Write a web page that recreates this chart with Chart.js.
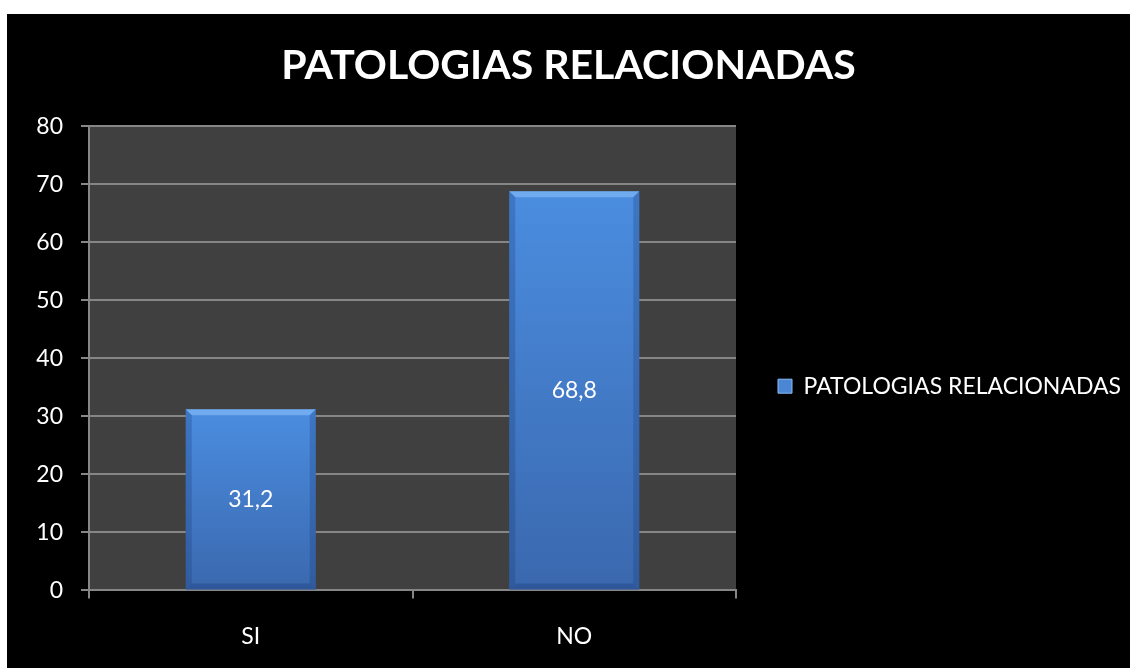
<!DOCTYPE html>
<html>
<head>
<meta charset="utf-8">
<script src="https://cdn.jsdelivr.net/npm/chart.js@4/dist/chart.umd.min.js"></script>
<style>
  html, body { margin: 0; padding: 0; background: #fff; }
  #wrap { position: absolute; left: 7px; top: 14px; width: 1123px; height: 654px; background: #000; }
</style>
</head>
<body>
<div id="wrap"><canvas id="chart"></canvas></div>
<script>
// datos del grafico
const categories = ['SI', 'NO']
const seriesName = 'PATOLOGIAS RELACIONADAS'
const seriesValues = [31.2, 68.8]
const yTicks = [0, 10, 20, 30, 40, 50, 60, 70, 80]

const FONT = 'Lato, "Open Sans", sans-serif'

// fondo gris del area de trazado
const plotBg = {
  id: 'plotBg',
  beforeDraw(chart) {
    const { ctx, chartArea: a } = chart
    ctx.save()
    ctx.fillStyle = '#404040'
    ctx.fillRect(a.left, a.top, a.right - a.left, a.bottom - a.top)
    ctx.restore()
  }
}

// biselado de las barras y etiquetas de valor
const bevel = {
  id: 'bevel',
  afterDatasetsDraw(chart) {
    const { ctx } = chart
    const meta = chart.getDatasetMeta(0)
    meta.data.forEach((bar, i) => {
      const l = bar.x - bar.width / 2
      const r = bar.x + bar.width / 2
      const t = bar.y
      const b = bar.base
      const d = 6
      ctx.save()
      ctx.fillStyle = 'rgba(150,200,255,0.5)'
      ctx.beginPath()
      ctx.moveTo(l, t); ctx.lineTo(r, t); ctx.lineTo(r - d, t + d); ctx.lineTo(l + d, t + d); ctx.closePath(); ctx.fill()
      ctx.fillStyle = 'rgba(20,50,110,0.25)'
      ctx.beginPath()
      ctx.moveTo(l, t); ctx.lineTo(l + d, t + d); ctx.lineTo(l + d, b - d); ctx.lineTo(l, b); ctx.closePath(); ctx.fill()
      ctx.beginPath()
      ctx.moveTo(r, t); ctx.lineTo(r - d, t + d); ctx.lineTo(r - d, b - d); ctx.lineTo(r, b); ctx.closePath(); ctx.fill()
      ctx.fillStyle = 'rgba(20,50,110,0.3)'
      ctx.beginPath()
      ctx.moveTo(l, b); ctx.lineTo(l + d, b - d); ctx.lineTo(r - d, b - d); ctx.lineTo(r, b); ctx.closePath(); ctx.fill()
      ctx.fillStyle = '#ffffff'
      ctx.font = '23px ' + FONT
      ctx.textAlign = 'center'
      ctx.textBaseline = 'middle'
      ctx.fillText(String(seriesValues[i]).replace('.', ','), bar.x, (t + b) / 2)
      ctx.restore()
    })
  }
}

function barFill(context) {
  const { chart } = context
  const a = chart.chartArea
  if (!a || context.type !== 'data') return '#4a86d4'
  const top = chart.scales.y.getPixelForValue(seriesValues[context.dataIndex])
  const g = chart.ctx.createLinearGradient(0, top, 0, a.bottom)
  g.addColorStop(0, '#4b8de0')
  g.addColorStop(1, '#3a68ae')
  return g
}

new Chart(document.getElementById('chart'), {
  type: 'bar',
  data: {
    labels: categories,
    datasets: [{
      label: seriesName,
      data: seriesValues,
      backgroundColor: barFill,
      borderWidth: 0,
      categoryPercentage: 1,
      barPercentage: 0.402
    }]
  },
  options: {
    responsive: true,
    maintainAspectRatio: false,
    animation: false,
    layout: { padding: { top: 0, right: 0, bottom: -6, left: 0 } },
    plugins: {
      title: {
        display: true,
        text: 'PATOLOGIAS RELACIONADAS',
        color: '#ffffff',
        font: { family: FONT, size: 41, weight: 'bold' },
        padding: { top: 27, bottom: 36 }
      },
      legend: {
        position: 'right',
        maxWidth: 394,
        title: { display: true, text: ' ', font: { size: 12 }, padding: { top: 70, bottom: 0 } },
        labels: {
          color: '#ffffff',
          font: { family: FONT, size: 23 },
          boxWidth: 14,
          boxHeight: 14,
          padding: 42,
          generateLabels(chart) {
            return [{ text: seriesName, fillStyle: '#4a86d4', strokeStyle: '#8cbcf5', lineWidth: 1, fontColor: '#ffffff', datasetIndex: 0 }]
          }
        }
      },
      tooltip: { enabled: false }
    },
    scales: {
      x: {
        offset: true,
        grid: { offset: true, drawOnChartArea: false, drawTicks: true, tickLength: 8, color: '#868686', lineWidth: 2 },
        border: { color: '#868686', width: 2 },
        ticks: { color: '#ffffff', font: { family: FONT, size: 23 }, padding: 24 }
      },
      y: {
        min: 0,
        max: 80,
        afterBuildTicks(axis) { axis.ticks = yTicks.map(v => ({ value: v })) },
        afterFit(axis) { axis.width = 82 },
        grid: { color: '#868686', lineWidth: 2, tickLength: 8 },
        border: { color: '#868686', width: 2 },
        ticks: { color: '#ffffff', font: { family: FONT, size: 23 }, padding: 18 }
      }
    }
  },
  plugins: [plotBg, bevel]
})
</script>
</body>
</html>
